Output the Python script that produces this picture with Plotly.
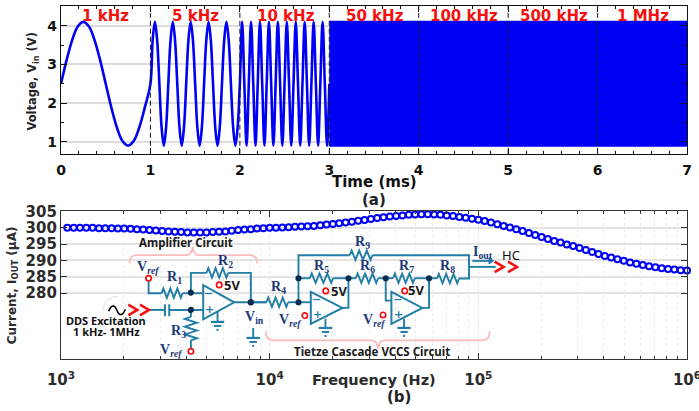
import plotly.graph_objects as go

W, H = 699, 411
ML, MR, MT, MB = 61, 11.5, 6, 52.3
BLUE = "#0000f5"
WIRE = "#237ea6"
NAVY = "#1d3a78"
PINK = "#f9bcbc"
RED = "#f50f0f"
DARK = "#2b2b2b"
FONT = "DejaVu Sans"

# ---------- panel (a) data ----------
time_low = [0, .0625, .125, .1875, .25, .3125, .375, .4375, .5, .5625, .625, .6875, .75, .8125, .875, .9375, 1,
            1.025, 1.05, 1.075, 1.1, 1.125, 1.15, 1.175, 1.2, 1.225, 1.25, 1.275, 1.3, 1.325, 1.35, 1.375, 1.4,
            1.425, 1.45, 1.475, 1.5, 1.525, 1.55, 1.575, 1.6, 1.625, 1.65, 1.675, 1.7, 1.725, 1.75, 1.775, 1.8,
            1.825, 1.85, 1.875, 1.9, 1.925, 1.95, 1.975, 2,
            2.025, 2.05, 2.075, 2.1, 2.125, 2.15, 2.175, 2.2, 2.225, 2.25, 2.275, 2.3, 2.325, 2.35, 2.375, 2.4,
            2.425, 2.45, 2.475, 2.5, 2.525, 2.55, 2.575, 2.6, 2.625, 2.65, 2.675, 2.7, 2.725, 2.75, 2.775, 2.8,
            2.825, 2.85, 2.875, 2.9, 2.925, 2.95, 2.975, 3]
volt_low = [2.5, 3.11, 3.63, 3.98, 4.1, 3.98, 3.63, 3.11, 2.5, 1.89, 1.37, 1.02, .9, 1.02, 1.37, 1.89, 2.5,
            3.63, 4.1, 3.63, 2.5, 1.37, .9, 1.37, 2.5, 3.63, 4.1, 3.63, 2.5, 1.37, .9, 1.37, 2.5,
            3.63, 4.1, 3.63, 2.5, 1.37, .9, 1.37, 2.5, 3.63, 4.1, 3.63, 2.5, 1.37, .9, 1.37, 2.5,
            3.63, 4.1, 3.63, 2.5, 1.37, .9, 1.37, 2.5,
            4.1, 2.5, .9, 2.5, 4.1, 2.5, .9, 2.5, 4.1, 2.5, .9, 2.5, 4.1, 2.5, .9, 2.5,
            4.1, 2.5, .9, 2.5, 4.1, 2.5, .9, 2.5, 4.1, 2.5, .9, 2.5, 4.1, 2.5, .9, 2.5,
            4.1, 2.5, .9, 2.5, 4.1, 2.5, .9, 2.5]
# dense band above 10 kHz, cannot be resolved: read as an envelope
band_time = [3, 4, 5, 6, 7, 7, 6, 5, 4, 3]
band_volt = [4.1, 4.1, 4.1, 4.1, 4.1, .9, .9, .9, .9, .9]
boundaries = [1, 2, 3, 4, 5, 6]
freq_names = ["1 kHz", "5 kHz", "10 kHz", "50 kHz", "100 kHz", "500 kHz", "1 MHz"]
freq_label_px = [106, 196, 286, 375, 464, 554, 643]

# ---------- panel (b) data ----------
freq_hz = [1000, 1072, 1150, 1233, 1322, 1417, 1520, 1630, 1748, 1874, 2009, 2154, 2310, 2477, 2656, 2848, 3054,
           3275, 3511, 3765, 4037, 4329, 4642, 4977, 5337, 5722, 6136, 6579, 7055, 7565, 8111, 8697, 9326,
           10000, 10723, 11498, 12328, 13219, 14175, 15199, 16298, 17475, 18738, 20092, 21544, 23101, 24771,
           26561, 28480, 30539, 32745, 35112, 37649, 40370, 43288, 46416, 49770, 53367, 57224, 61359, 65793,
           70548, 75646, 81113, 86975, 93260,
           100000, 107227, 114976, 123285, 132194, 141747, 151991, 162975, 174753, 187382, 200923, 215443,
           231013, 247708, 265609, 284804, 305386, 327455, 351119, 376494, 403702, 432876, 464159, 497702,
           533670, 572237, 613591, 657933, 705480, 756463, 811131, 869749, 932603, 1000000]
current_ua = [300.0, 300.0, 300.0, 300.0, 300.0, 300.0, 299.9, 299.9, 299.9, 299.8, 299.8,
              299.7, 299.6, 299.5, 299.3, 299.2, 299.0, 298.9, 298.8, 298.7, 298.6,
              298.6, 298.6, 298.6, 298.7, 298.8, 298.9, 299.1, 299.3, 299.5, 299.6, 299.8, 299.9, 300.0,
              300.05, 300.1, 300.2, 300.3, 300.4, 300.5, 300.55, 300.8, 301.0, 301.2,
              301.4, 301.6, 301.9, 302.2, 302.4, 302.7, 303.0, 303.25, 303.45, 303.65,
              303.8, 304.0, 304.1, 304.15, 304.15, 304.1, 304.0, 303.8, 303.6, 303.35,
              303.1, 302.8, 302.5,
              302.1, 301.6, 301.1, 300.6, 300.1, 299.6, 299.0, 298.4, 297.8, 297.2,
              296.6, 296.0, 295.5, 294.9, 294.4, 293.8, 293.2, 292.6, 292.0, 291.4,
              290.9, 290.4, 289.9, 289.4, 289.0, 288.6, 288.2, 287.9, 287.6, 287.4,
              287.2, 287.0, 286.9]
current_ticks = [280, 285, 290, 295, 300, 305]
decades = [1000, 10000, 100000, 1000000]
decade_labels = ["10<sup>3</sup>", "10<sup>4</sup>", "10<sup>5</sup>", "10<sup>6</sup>"]
log_minor = [2000, 3000, 4000, 5000, 6000, 7000, 8000, 9000,
             20000, 30000, 40000, 50000, 60000, 70000, 80000, 90000,
             200000, 300000, 400000, 500000, 600000, 700000, 800000, 900000]

# ---------- helpers: pixel position -> paper ----------
def px(x): return (x - ML) / (W - ML - MR)
def py(y): return 1 - (y - MT) / (H - MT - MB)
def P(x, y): return f"{px(x):.5f} {py(y):.5f}"

Z3 = (0, 205)
Z4 = (250, 205)
def zp(o, x, y): return (o[0] + x / 3, o[1] + y / 3)

shapes, anns = [], []

def path(o, pts, color=WIRE, width=1.9, fill=None, close=False):
    c = [zp(o, *p) for p in pts]
    d = "M " + " L ".join(P(*q) for q in c) + (" Z" if close else "")
    shapes.append(dict(type="path", xref="paper", yref="paper", path=d,
                       line=dict(color=color, width=width),
                       fillcolor=fill if fill else "rgba(0,0,0,0)"))

def curve(o, cmds, color=PINK, width=1.8):
    parts = []
    for c, pts in cmds:
        parts.append(c + " " + " ".join(P(*zp(o, *p)) for p in pts))
    shapes.append(dict(type="path", xref="paper", yref="paper", path=" ".join(parts),
                       line=dict(color=color, width=width), fillcolor="rgba(0,0,0,0)"))

def dot(o, x, y, r=2.3, color="#0b2c52", line=None, fill=None, lw=1.6):
    cx, cy = zp(o, x, y)
    shapes.append(dict(type="circle", xref="paper", yref="paper",
                       x0=px(cx - r), x1=px(cx + r), y0=py(cy + r), y1=py(cy - r),
                       fillcolor=fill or color, line=dict(color=line or color, width=lw)))

def ring(o, x, y):
    dot(o, x, y, r=2.7, line="#f01010", fill="#ffffff", lw=1.7)

def hres(o, x0, x1, y, a=14):
    n = 6
    pts = [(x0, y)]
    for i in range(n):
        pts.append((x0 + (x1 - x0) * (i + .5) / n, y + (a if i % 2 else -a)))
    pts.append((x1, y))
    path(o, pts)

def vres(o, x, y0, y1, a=18):
    n = 6
    pts = [(x, y0)]
    for i in range(n):
        pts.append((x + (a if i % 2 else -a), y0 + (y1 - y0) * (i + .5) / n))
    pts.append((x, y1))
    path(o, pts)

def ground(o, x, y0, y1, half=20):
    path(o, [(x, y0), (x, y1)])
    path(o, [(x - half, y1), (x + half, y1)], width=2.2)
    path(o, [(x - half * .55, y1 + 12), (x + half * .55, y1 + 12)], width=2)
    path(o, [(x - 3, y1 + 24), (x + 3, y1 + 24)], width=2)

def opamp(o, x0, y0, y1, x1):
    ym = (y0 + y1) / 2
    path(o, [(x0, y0), (x0, y1), (x1, ym)], close=True, width=2)

def chevron(o, x, y, w=27, h=16):
    path(o, [(x, y - h), (x + w, y), (x, y + h)], color=RED, width=2.6)

def text(x, y, s, size=11, color="#000000", family=FONT, angle=0, weight="bold"):
    anns.append(dict(xref="paper", yref="paper", x=px(x), y=py(y), text=s, showarrow=False,
                     xanchor="center", yanchor="middle", textangle=angle,
                     font=dict(family=family, size=size, color=color, weight=weight)))

def ztext(o, x, y, s, **kw):
    text(*zp(o, x, y), s, **kw)

def rlabel(o, x, y, n):
    ztext(o, x, y, f"R<sub>{n}</sub>", size=14, color=NAVY, family="Liberation Serif")

def vref(o, x, y):
    ztext(o, x, y, "V<sub><i>ref</i></sub>", size=14, color=NAVY, family="Liberation Serif")

# ---------- schematic, left half ----------
curve(Z3, [("M", [(388, 175)]), ("Q", [(388, 150), (410, 150)]), ("L", [(560, 150)]),
           ("Q", [(575, 150), (578, 125)]), ("Q", [(581, 150), (596, 150)]), ("L", [(750, 150)]),
           ("Q", [(772, 150), (772, 175)])])
ztext(Z3, 558, 112, "Amplifier Circuit", size=11.5, family="Noto Sans", color="#1a1a1a")
ring(Z3, 446, 219)
vref(Z3, 447, 187)
path(Z3, [(446, 228), (446, 264), (485, 264)])
hres(Z3, 485, 548, 264)
rlabel(Z3, 524, 218, 1)
path(Z3, [(548, 264), (610, 264)])
path(Z3, [(573, 264), (573, 203), (620, 203)])
hres(Z3, 620, 685, 203)
rlabel(Z3, 677, 170, 2)
path(Z3, [(685, 203), (753, 203), (753, 291)])
opamp(Z3, 610, 240, 342, 703)
ztext(Z3, 627, 264, "−", size=11, color=WIRE)
ztext(Z3, 628, 312, "+", size=11, color=WIRE)
ring(Z3, 658, 239)
ztext(Z3, 697, 238, "5V", size=13, color="#1a1a1a", family="Noto Sans")
path(Z3, [(703, 291), (800, 291)])
ground(Z3, 653, 318, 350)
ztext(Z3, 765, 336, "V<sub>in</sub>", size=14, color=NAVY, family="Liberation Serif")
ground(Z3, 760, 368, 398)
path(Z3, [(450, 314), (495, 314)])
path(Z3, [(495, 297), (495, 333)], width=2)
path(Z3, [(508, 297), (508, 333)], width=2)
path(Z3, [(508, 314), (610, 314)])
path(Z3, [(573, 314), (573, 335)])
vres(Z3, 573, 335, 405)
path(Z3, [(573, 405), (573, 428)])
ring(Z3, 573, 438)
rlabel(Z3, 537, 380, 3)
vref(Z3, 515, 435)
dot(Z3, 573, 262)
dot(Z3, 573, 314)
dot(Z3, 753, 291)
chevron(Z3, 385, 314)
chevron(Z3, 420, 314)
curve(Z3, [("M", [(308, 315)]), ("Q", [(315, 272), (355, 274)])], color="#cfcfcf", width=.7)
curve(Z3, [("M", [(326, 318)]), ("C", [(335, 295), (345, 300), (351, 315)]),
           ("C", [(356, 330), (368, 335), (376, 312)])], color="#000000", width=1.5)
ztext(Z3, 318, 347, "DDS Excitation", size=11, family="Noto Sans", color="#111111")
ztext(Z3, 320, 379, "1 kHz- 1MHz", size=11, family="Noto Sans", color="#111111")

# ---------- schematic, right half ----------
path(Z4, [(0, 291), (50, 291)])
hres(Z4, 50, 115, 291)
rlabel(Z4, 85, 246, 4)
path(Z4, [(115, 291), (183, 291)])
path(Z4, [(146, 291), (146, 150), (300, 150)])
hres(Z4, 300, 368, 150)
rlabel(Z4, 338, 112, 9)
path(Z4, [(368, 150), (658, 150), (658, 220), (628, 220)])
hres(Z4, 562, 628, 220)
rlabel(Z4, 594, 183, 8)
path(Z4, [(146, 219), (180, 219)])
hres(Z4, 180, 250, 219)
rlabel(Z4, 215, 183, 5)
path(Z4, [(250, 219), (318, 219)])
hres(Z4, 318, 385, 219)
rlabel(Z4, 352, 183, 6)
path(Z4, [(385, 219), (430, 219)])
hres(Z4, 430, 495, 219)
rlabel(Z4, 470, 183, 7)
path(Z4, [(495, 219), (562, 219)])
opamp(Z4, 183, 260, 356, 278)
path(Z4, [(278, 308), (296, 308), (296, 219)])
ztext(Z4, 200, 283, "−", size=11, color=WIRE)
ztext(Z4, 203, 327, "+", size=11, color=WIRE)
ring(Z4, 228, 257)
ztext(Z4, 267, 256, "5V", size=13, color="#1a1a1a", family="Noto Sans")
ring(Z4, 165, 331)
vref(Z4, 123, 347)
ground(Z4, 227, 340, 368)
opamp(Z4, 425, 260, 356, 518)
path(Z4, [(518, 308), (538, 308), (538, 219)])
path(Z4, [(408, 219), (408, 286), (425, 286)])
ztext(Z4, 442, 283, "−", size=11, color=WIRE)
ztext(Z4, 445, 327, "+", size=11, color=WIRE)
ring(Z4, 465, 257)
ztext(Z4, 500, 253, "5V", size=13, color="#1a1a1a", family="Noto Sans")
ring(Z4, 400, 329)
vref(Z4, 375, 347)
ground(Z4, 463, 340, 368)
dot(Z4, 3, 291)
dot(Z4, 146, 291)
dot(Z4, 146, 219)
dot(Z4, 296, 219)
dot(Z4, 408, 219)
dot(Z4, 538, 219)
ztext(Z4, 700, 143, "I<sub>out</sub>", size=14, color=NAVY, family="Liberation Serif")
path(Z4, [(668, 167), (722, 167)])
path(Z4, [(718, 158), (732, 167), (718, 176)], fill=WIRE, close=True, width=1)
path(Z4, [(658, 185), (738, 185)])
chevron(Z4, 735, 185)
chevron(Z4, 775, 185)
ztext(Z4, 785, 148, "HC", size=13, family="Noto Sans", color="#111111", weight="normal")
curve(Z4, [("M", [(48, 378)]), ("Q", [(48, 405), (70, 405)]), ("L", [(365, 405)]),
           ("Q", [(382, 405), (385, 430)]), ("Q", [(388, 405), (405, 405)]), ("L", [(698, 405)]),
           ("Q", [(720, 405), (720, 378)])])
ztext(Z4, 367, 440, "Tietze Cascade VCCS Circuit", size=11.5, family="Noto Sans", color="#1a1a1a")

# ---------- panel furniture ----------
for name, xp in zip(freq_names, freq_label_px):
    text(xp, 16, name, size=15, color=RED)
text(374.5, 182, "Time (ms)", size=15, color="#111111")
text(374, 200, "(a)", size=15, color="#222222")
text(374, 380, "Frequency (Hz)", size=14.5, color=DARK)
text(399, 397, "(b)", size=15, color="#222222")
text(32.5, 81, "Voltage, V<sub>in</sub> (V)", size=11.5, color="#222222", angle=-90)
text(13, 285, "Current, I<sub>OUT</sub> (μA)", size=12, color=DARK, angle=-90)

for b in boundaries:
    shapes.append(dict(type="line", xref="x", yref="y domain", x0=b, x1=b, y0=0, y1=1,
                       line=dict(color="#1a1a1a", width=1, dash="5px,3px")))

fig = go.Figure()
fig.add_trace(go.Scatter(x=time_low, y=volt_low, mode="lines", xaxis="x", yaxis="y",
                         line=dict(color=BLUE, width=2.6, shape="spline", smoothing=1),
                         cliponaxis=False, showlegend=False))
fig.add_trace(go.Scatter(x=band_time, y=band_volt, mode="lines", xaxis="x", yaxis="y", fill="toself",
                         fillcolor=BLUE, line=dict(color=BLUE, width=2), cliponaxis=False, showlegend=False))
fig.add_trace(go.Scatter(x=freq_hz, y=current_ua, mode="markers", xaxis="x2", yaxis="y2",
                         marker=dict(symbol="circle-open", size=6, color=BLUE, line=dict(color=BLUE, width=2)),
                         cliponaxis=False, showlegend=False))

plot_h = H - MT - MB
tick_font = dict(family=FONT, size=14, color="#111111", weight="bold")
tick_font2 = dict(family=FONT, size=15, color=DARK, weight="bold")
fig.update_layout(
    width=W, height=H, paper_bgcolor="white", plot_bgcolor="white", showlegend=False,
    margin=dict(l=ML, r=MR, t=MT, b=MB, autoexpand=False),
    shapes=shapes, annotations=anns,
    xaxis=dict(domain=[0, 1], range=[0, 7], anchor="y", tickvals=[0, 1, 2, 3, 4, 5, 6, 7],
               ticks="inside", ticklen=6, tickcolor="#111", tickwidth=1, showgrid=False, zeroline=False,
               showline=True, linecolor="#111", linewidth=1.2, mirror="ticks", tickfont=tick_font,
               ticklabelstandoff=3, ticklabeloverflow="allow",
               minor=dict(dtick=.2, ticks="inside", ticklen=3, tickcolor="#111", showgrid=False)),
    yaxis=dict(domain=[(358.7 - 153.7) / plot_h, 1], range=[.69, 4.51], anchor="x",
               tickvals=[1, 2, 3, 4], ticks="inside", ticklen=6, tickcolor="#111", showgrid=True,
               gridcolor="#dcdcdc", gridwidth=1.5, zeroline=False, showline=True, linecolor="#111",
               linewidth=1.2, mirror="ticks", tickfont=tick_font,
               minor=dict(dtick=.5, ticks="inside", ticklen=3, tickcolor="#111", showgrid=False)),
    xaxis2=dict(domain=[0, 1], type="log", range=[3, 6], anchor="y2", tickmode="array", tickvals=decades,
                ticktext=decade_labels, ticklabelstandoff=7, ticklabeloverflow="allow",
                ticks="inside", ticklen=6, tickcolor="#333", showgrid=True, gridcolor="#e6e6e6", gridwidth=1,
                griddash="dot", zeroline=False, showline=True, linecolor="#333", linewidth=1.2, mirror="ticks",
                tickfont=tick_font2,
                minor=dict(tickvals=log_minor, ticks="inside", ticklen=3, tickcolor="#333", showgrid=True,
                           gridcolor="#ececec", griddash="dot", gridwidth=.7)),
    yaxis2=dict(domain=[0, (358.7 - 210.7) / plot_h], range=[259.8, 305.2], anchor="x2", tickvals=current_ticks,
                ticks="inside", ticklen=6, tickcolor="#333", showgrid=True, gridcolor="#e4e4e4", gridwidth=1.6,
                zeroline=False, showline=True, linecolor="#333", linewidth=1.2, mirror="ticks",
                tickfont=tick_font2),
)
fig.write_html("out.html", config={"displayModeBar": False},
               post_script="document.body.style.margin='0';document.documentElement.style.overflow='hidden';")
